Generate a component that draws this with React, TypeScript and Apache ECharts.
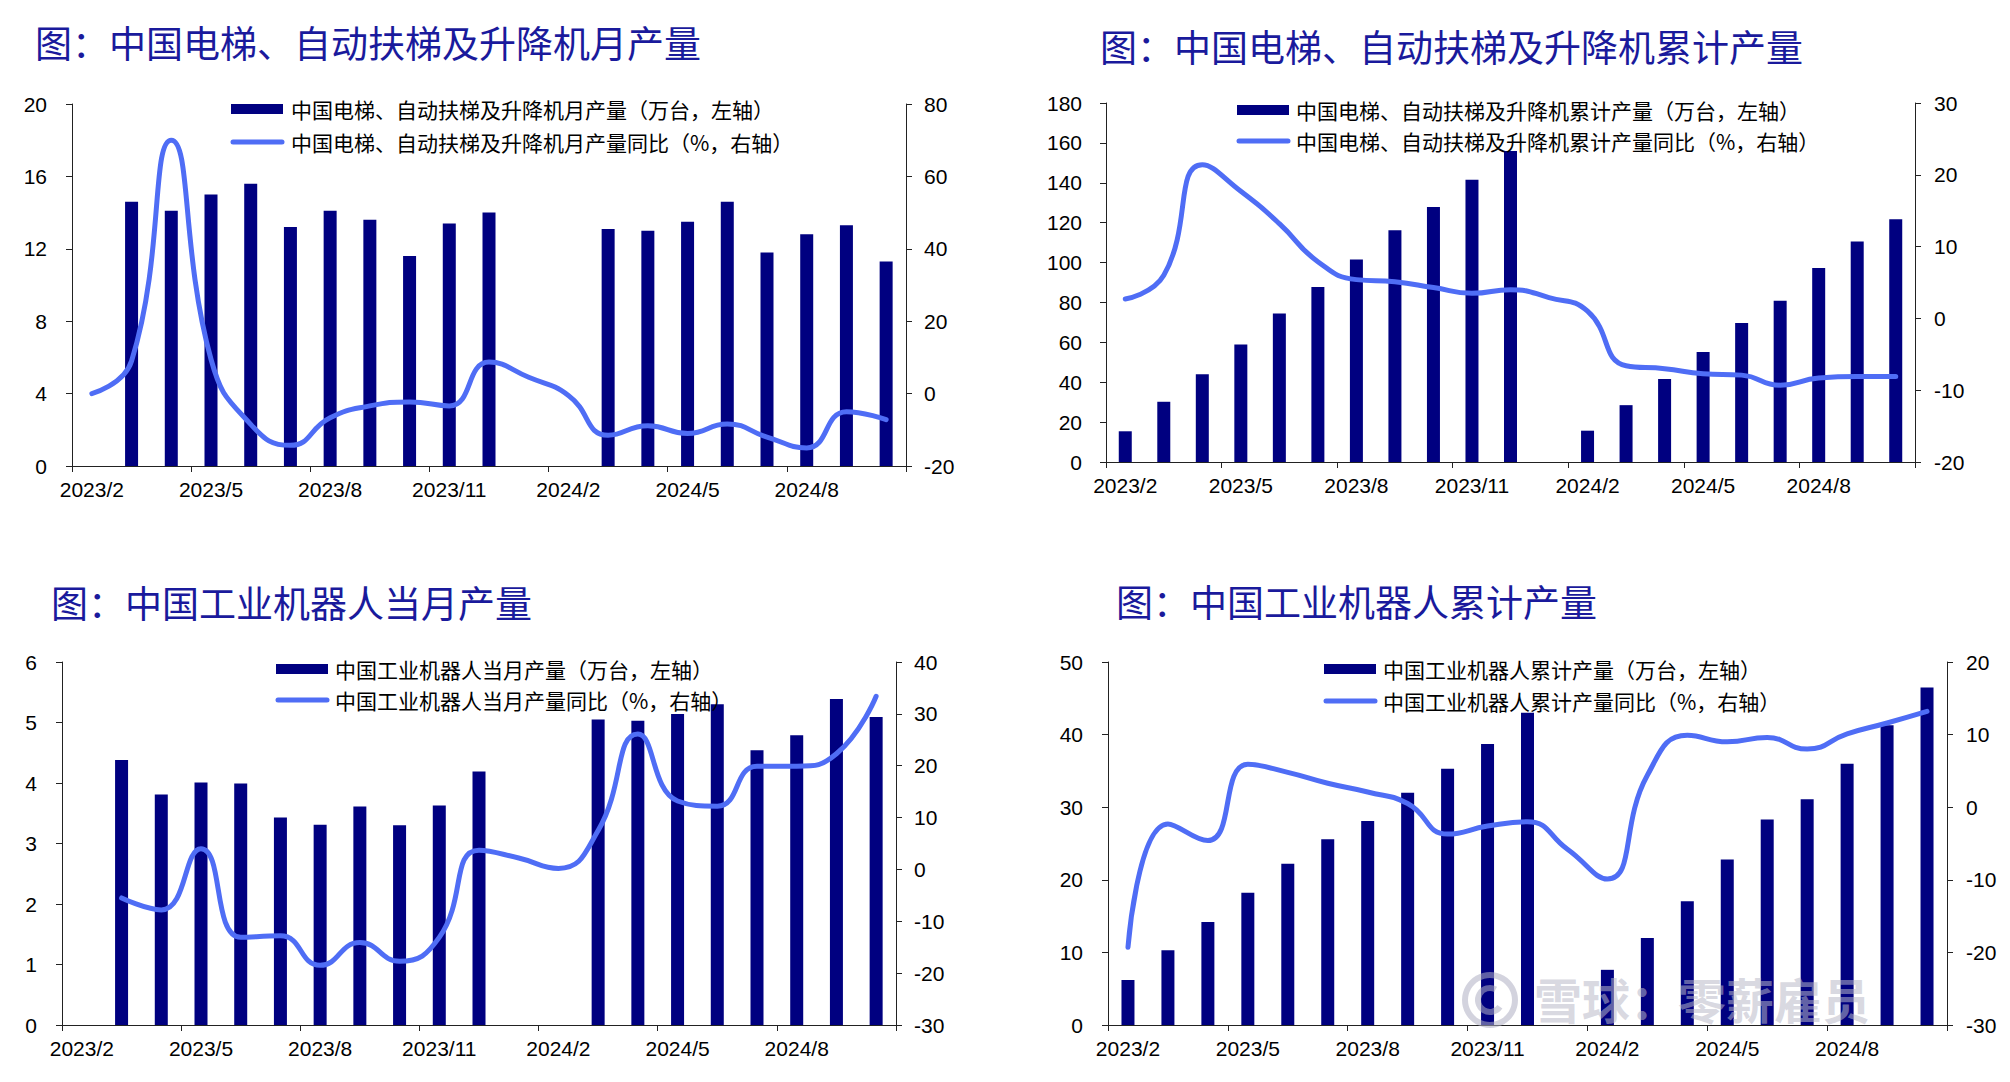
import React, { useEffect, useRef } from "react";
import * as echarts from "echarts";

// ---------- data ----------
const months = [
  "2023/2", "2023/3", "2023/4", "2023/5", "2023/6", "2023/7", "2023/8", "2023/9", "2023/10", "2023/11", "2023/12",
  "2024/1", "2024/2", "2024/3", "2024/4", "2024/5", "2024/6", "2024/7", "2024/8", "2024/9", "2024/10",
];

// 中国电梯、自动扶梯及升降机月产量（万台）
const elevMonthly = [null, 14.6, 14.1, 15.0, 15.6, 13.2, 14.1, 13.6, 11.6, 13.4, 14.0, null, null, 13.1, 13.0, 13.5, 14.6, 11.8, 12.8, 13.3, 11.3];
// 月产量同比（%）
const elevMonthlyYoY = [0, 9, 70, 9.5, -8.5, -14.3, -6.7, -3.4, -2.3, -3.4, 8.7, 4.5, -0.5, -11.5, -8.9, -11, -8.4, -12, -15, -5, -7.2];

// 中国电梯、自动扶梯及升降机累计产量（万台）
const elevCum = [15.4, 30.2, 44.0, 58.9, 74.4, 87.7, 101.5, 116.2, 127.9, 141.5, 155.9, null, 15.7, 28.5, 41.6, 55.2, 69.7, 80.8, 97.3, 110.5, 121.7];
// 累计产量同比（%）
const elevCumYoY = [2.7, 6, 21.4, 17.7, 13.2, 7.9, 5.4, 5.1, 4.3, 3.5, 4.0, 2.9, 1.0, -6.6, -7, -7.7, -7.9, -9.3, -8.3, -8.1, -8.1];

// 中国工业机器人当月产量（万台）
const robotMonthly = [null, 4.38, 3.81, 4.01, 3.99, 3.43, 3.31, 3.61, 3.30, 3.63, 4.19, null, null, 5.05, 5.03, 5.14, 5.30, 4.54, 4.79, 5.39, 5.09];
// 当月产量同比（%）
const robotMonthlyYoY = [null, -5.5, -7.8, 4.0, -13.1, -12.8, -18.5, -14.1, -17.7, -13.1, 3.7, 2.2, 0.2, 7.5, 26.1, 13.2, 12.2, 19.9, 19.9, 22.3, 33.4];

// 中国工业机器人累计产量（万台）
const robotCum = [6.2, 10.3, 14.2, 18.2, 22.2, 25.6, 28.1, 32.0, 35.3, 38.7, 43.0, null, 7.6, 12.0, 17.05, 22.8, 28.3, 31.1, 36.0, 41.3, 46.5];
// 累计产量同比（%）
const robotCumYoY = [-19.3, -2.3, -4.6, 5.9, 4.8, 3.3, 2.1, 0.5, -3.7, -2.6, -2.0, -5.8, -9.9, 4.4, 9.9, 9.0, 9.6, 8.0, 10.1, 11.6, 13.2];

const titles = [
  "图：中国电梯、自动扶梯及升降机月产量",
  "图：中国电梯、自动扶梯及升降机累计产量",
  "图：中国工业机器人当月产量",
  "图：中国工业机器人累计产量",
];
const barNames = [
  "中国电梯、自动扶梯及升降机月产量（万台，左轴）",
  "中国电梯、自动扶梯及升降机累计产量（万台，左轴）",
  "中国工业机器人当月产量（万台，左轴）",
  "中国工业机器人累计产量（万台，左轴）",
];
const lineNames = [
  "中国电梯、自动扶梯及升降机月产量同比（%，右轴）",
  "中国电梯、自动扶梯及升降机累计产量同比（%，右轴）",
  "中国工业机器人当月产量同比（%，右轴）",
  "中国工业机器人累计产量同比（%，右轴）",
];
const leftRanges = [
  [0, 20, 4],
  [0, 180, 20],
  [0, 6, 1],
  [0, 50, 10],
];
const rightRanges = [
  [-20, 80, 20],
  [-20, 30, 10],
  [-30, 40, 10],
  [-30, 20, 10],
];
const barSeries = [elevMonthly, elevCum, robotMonthly, robotCum];
const lineSeries = [elevMonthlyYoY, elevCumYoY, robotMonthlyYoY, robotCumYoY];

// ---------- layout ----------
const grids = [
  { left: 72, top: 104, width: 834, height: 362 },
  { left: 1106, top: 103, width: 809, height: 359 },
  { left: 62, top: 662, width: 834, height: 363 },
  { left: 1108, top: 662, width: 839, height: 363 },
];
const titlePos = [
  [35, 42],
  [1100, 46],
  [51, 602],
  [1116, 601],
];
const legendPos = [
  // iconX, textX, row1Y, row2Y
  [231, 291, 109, 142],
  [1237, 1296, 110, 141],
  [276, 335, 669, 700],
  [1324, 1383, 669, 701],
];
const leftMargins = [25, 24, 25, 25];
const rightMargins = [18, 19, 18, 19];

const NAVY = "#000080";
const BLUE = "#4F6DF5";
const TITLE_COLOR = "#1a1a9c";
const NUM_FONT = '"Liberation Sans", Arial, sans-serif';
const CJK_FONT = '"Noto Sans CJK SC", "Noto Sans", sans-serif';
const AXIS_COLOR = "#222";

function buildOption() {
  const xAxis: any[] = [];
  const yAxis: any[] = [];
  const series: any[] = [];
  const graphic: any[] = [];

  for (let i = 0; i < 4; i++) {
    xAxis.push({
      type: "category",
      gridIndex: i,
      data: months,
      boundaryGap: true,
      axisLine: { show: true, onZero: false, lineStyle: { color: AXIS_COLOR, width: 1 } },
      axisTick: { show: true, interval: 2, length: 6, lineStyle: { color: AXIS_COLOR, width: 1 } },
      axisLabel: { interval: 2, margin: 13, fontSize: 21, fontFamily: NUM_FONT, color: "#000" },
      splitLine: { show: false },
    });
    const [lmin, lmax, lint] = leftRanges[i];
    const [rmin, rmax, rint] = rightRanges[i];
    yAxis.push({
      type: "value",
      gridIndex: i,
      position: "left",
      min: lmin,
      max: lmax,
      interval: lint,
      axisLine: { show: true, lineStyle: { color: AXIS_COLOR, width: 1 } },
      axisTick: { show: true, length: 6, lineStyle: { color: AXIS_COLOR, width: 1 } },
      axisLabel: { margin: leftMargins[i], fontSize: 21, fontFamily: NUM_FONT, color: "#000" },
      splitLine: { show: false },
    });
    yAxis.push({
      type: "value",
      gridIndex: i,
      position: "right",
      min: rmin,
      max: rmax,
      interval: rint,
      axisLine: { show: true, lineStyle: { color: AXIS_COLOR, width: 1 } },
      axisTick: { show: true, length: 6, lineStyle: { color: AXIS_COLOR, width: 1 } },
      axisLabel: { margin: rightMargins[i], fontSize: 21, fontFamily: NUM_FONT, color: "#000" },
      splitLine: { show: false },
    });
    series.push({
      type: "bar",
      name: barNames[i],
      xAxisIndex: i,
      yAxisIndex: 2 * i,
      data: barSeries[i],
      barWidth: 13,
      itemStyle: { color: NAVY },
      z: 2,
    });
    series.push({
      type: "line",
      name: lineNames[i],
      xAxisIndex: i,
      yAxisIndex: 2 * i + 1,
      data: lineSeries[i],
      smooth: 0.5,
      symbol: "none",
      showSymbol: false,
      connectNulls: true,
      lineStyle: { color: BLUE, width: 5, cap: "round", join: "round" },
      z: 3,
    });

    // title
    graphic.push({
      type: "text",
      x: titlePos[i][0],
      y: titlePos[i][1],
      z: 10,
      style: {
        text: titles[i],
        fontSize: 37,
        fontFamily: CJK_FONT,
        fill: TITLE_COLOR,
        align: "left",
        verticalAlign: "middle",
      },
    });
    // legend
    const [ix, tx, y1, y2] = legendPos[i];
    graphic.push({
      type: "rect",
      z: 10,
      shape: { x: ix, y: y1 - 5, width: 52, height: 10 },
      style: { fill: NAVY },
    });
    graphic.push({
      type: "text",
      x: tx,
      y: y1,
      z: 10,
      style: { text: barNames[i], fontSize: 21, fontFamily: CJK_FONT, fill: "#000", align: "left", verticalAlign: "middle" },
    });
    graphic.push({
      type: "line",
      z: 10,
      shape: { x1: ix + 2, y1: y2, x2: ix + 51, y2: y2 },
      style: { stroke: BLUE, lineWidth: 5, lineCap: "round" },
    });
    graphic.push({
      type: "text",
      x: tx,
      y: y2,
      z: 10,
      style: { text: lineNames[i], fontSize: 21, fontFamily: CJK_FONT, fill: "#000", align: "left", verticalAlign: "middle" },
    });
  }

  // watermark
  graphic.push({
    type: "ring",
    z: 20,
    shape: { cx: 1490, cy: 1000, r: 28, r0: 22 },
    style: { fill: "rgba(175,175,195,0.55)" },
  });
  graphic.push({
    type: "arc",
    z: 20,
    shape: { cx: 1490, cy: 1000, r: 12, startAngle: 0.6, endAngle: 5.2 },
    style: { stroke: "rgba(175,175,195,0.55)", lineWidth: 6, fill: "none" },
  });
  graphic.push({
    type: "text",
    x: 1534,
    y: 998,
    z: 20,
    style: {
      text: "雪球：零薪雇员",
      fontSize: 48,
      fontFamily: CJK_FONT,
      fontWeight: "bold",
      fill: "rgba(185,185,200,0.55)",
      align: "left",
      verticalAlign: "middle",
    },
  });

  return {
    animation: false,
    backgroundColor: "#fff",
    grid: grids.map((g) => ({ ...g, containLabel: false })),
    xAxis,
    yAxis,
    series,
    graphic,
  };
}

export default function App() {
  const ref = useRef<HTMLDivElement>(null);
  useEffect(() => {
    if (!ref.current) return;
    const chart = echarts.init(ref.current, undefined, { renderer: "svg" });
    chart.setOption(buildOption() as any);
    return () => chart.dispose();
  }, []);
  return (
    <div
      ref={ref}
      style={{ position: "fixed", left: 0, top: 0, width: 2010, height: 1082, background: "#fff" }}
    />
  );
}
